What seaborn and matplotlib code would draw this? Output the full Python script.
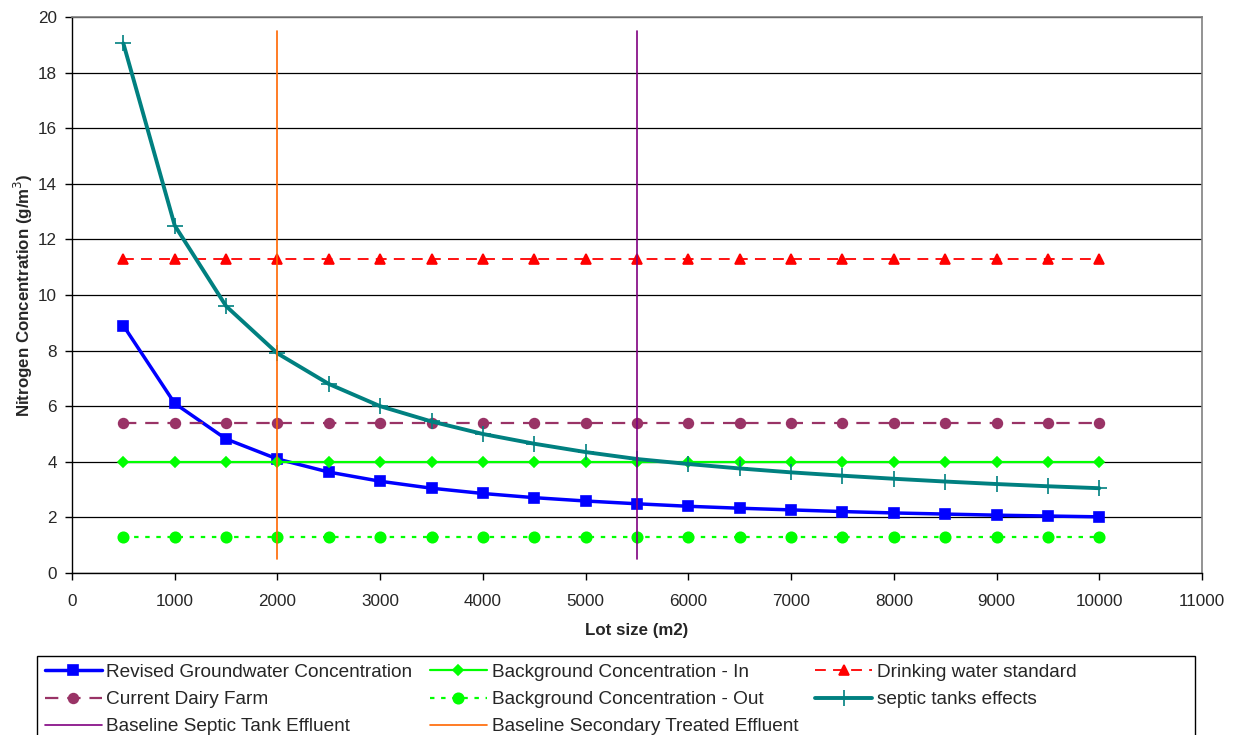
import matplotlib
matplotlib.use("Agg")
import matplotlib.pyplot as plt
from matplotlib.patches import Rectangle
import numpy as np
import pandas as pd
import seaborn as sns

# ── Data ──────────────────────────────────────────────────────────────────────
lot_size = [500, 1000, 1500, 2000, 2500, 3000, 3500, 4000, 4500, 5000,
            5500, 6000, 6500, 7000, 7500, 8000, 8500, 9000, 9500, 10000]
revised_gw = [8.9, 6.1, 4.82, 4.1, 3.63, 3.3, 3.05, 2.86, 2.71, 2.59,
              2.49, 2.40, 2.33, 2.27, 2.21, 2.16, 2.12, 2.08, 2.05, 2.02]
septic_effects = [19.05, 12.5, 9.6, 7.9, 6.8, 6.0, 5.45, 5.0, 4.65, 4.35,
                  4.1, 3.92, 3.76, 3.62, 3.5, 3.39, 3.29, 3.2, 3.12, 3.05]
background_in = [4.0] * 20
background_out = [1.3] * 20
drinking_std = [11.3] * 20
dairy_farm = [5.4] * 20

septic_baseline_x = [5500, 5500]
septic_baseline_y = [0.5, 19.5]
secondary_baseline_x = [2000, 2000]
secondary_baseline_y = [0.5, 19.5]

sns.set_theme(style="white")
plt.rcParams["font.family"] = ["Liberation Sans", "DejaVu Sans"]

W, H = 1236, 735
fig = plt.figure(figsize=(W / 100, H / 100), dpi=100)
ax = fig.add_axes([72 / W, 1 - 573 / H, (1202 - 72) / W, (573 - 17) / H])

# horizontal gridlines
ax.set_axisbelow(True)
ax.yaxis.grid(True, color="black", linewidth=0.9)
ax.xaxis.grid(False)

series = [
    # (x, y, label, colour, linestyle, marker, markersize, linewidth)
    (lot_size, revised_gw, "Revised Groundwater Concentration", "#0000FF", "-", "s", 7, 2.5),
    (lot_size, background_in, "Background Concentration - In", "#00FF00", "-", "D", 5, 1.6),
    (lot_size, drinking_std, "Drinking water standard", "#FF0000", (0, (6, 4)), "^", 6.5, 1.3),
    (lot_size, dairy_farm, "Current Dairy Farm", "#993366", (0, (6, 4)), "o", 7, 1.6),
    (lot_size, background_out, "Background Concentration - Out", "#00FF00", (0, (2, 3)), "o", 7.5, 1.6),
    (lot_size, septic_effects, "septic tanks effects", "#008080", "-", "+", 11, 2.8),
    (septic_baseline_x, septic_baseline_y, "Baseline Septic Tank Effluent", "#800080", "-", None, 0, 1.2),
    (secondary_baseline_x, secondary_baseline_y, "Baseline Secondary Treated Effluent", "#FF6600", "-", None, 0, 1.2),
]

for x, y, label, colour, ls, marker, ms, lw in series:
    df = pd.DataFrame({"x": x, "y": y})
    kw = dict(color=colour, linestyle=ls, linewidth=lw, label=label)
    if marker is not None:
        kw.update(marker=marker, markersize=ms, markeredgecolor=colour,
                  markerfacecolor=colour, markeredgewidth=1.2)
    sns.lineplot(data=df, x="x", y="y", ax=ax, sort=False, estimator=None, **kw)

if ax.get_legend() is not None:
    ax.get_legend().remove()

ax.set_xlim(0, 11000)
ax.set_ylim(0, 20)
ax.set_xticks(np.arange(0, 11001, 1000))
ax.set_yticks(np.arange(0, 21, 2))
ax.tick_params(axis="both", which="major", direction="out", length=5, width=1,
               color="black", labelsize=12.3, bottom=True, left=True)
ax.tick_params(axis="x", pad=10)
ax.tick_params(axis="y", pad=6)

for side in ["left", "bottom"]:
    ax.spines[side].set_color("black")
    ax.spines[side].set_linewidth(1)
for side in ["top", "right"]:
    ax.spines[side].set_color("#808080")
    ax.spines[side].set_linewidth(1.2)

ax.set_xlabel("Lot size (m2)", fontsize=12.2, fontweight="bold", labelpad=10)
ax.set_ylabel("Nitrogen Concentration (g/m$^3$)", fontsize=12.2, fontweight="bold")
ax.yaxis.set_label_coords(-0.033, 0.5)

# legend box: Excel draws it wider than its entries, so frame is drawn separately
fig.patches.append(Rectangle((37 / W, -0.01), (1195 - 37) / W, 0.01 + 1 - 656 / H,
                             transform=fig.transFigure, facecolor="white",
                             edgecolor="black", linewidth=1, zorder=0))

# legend filled column by column -> reorder so it reads row by row
handles, labels = ax.get_legend_handles_labels()
order = [0, 3, 6, 1, 4, 7, 2, 5]
handles = [handles[i] for i in order]
labels = [labels[i] for i in order]
leg = fig.legend(handles, labels, ncol=3, loc="upper left",
                 bbox_to_anchor=(38 / W, 1 - 657 / H),
                 frameon=False, fontsize=13.7, handlelength=3.0,
                 handletextpad=0.25, columnspacing=0.9, borderpad=0.35,
                 labelspacing=0.52, borderaxespad=0)

fig.savefig("out.png", dpi=100)
